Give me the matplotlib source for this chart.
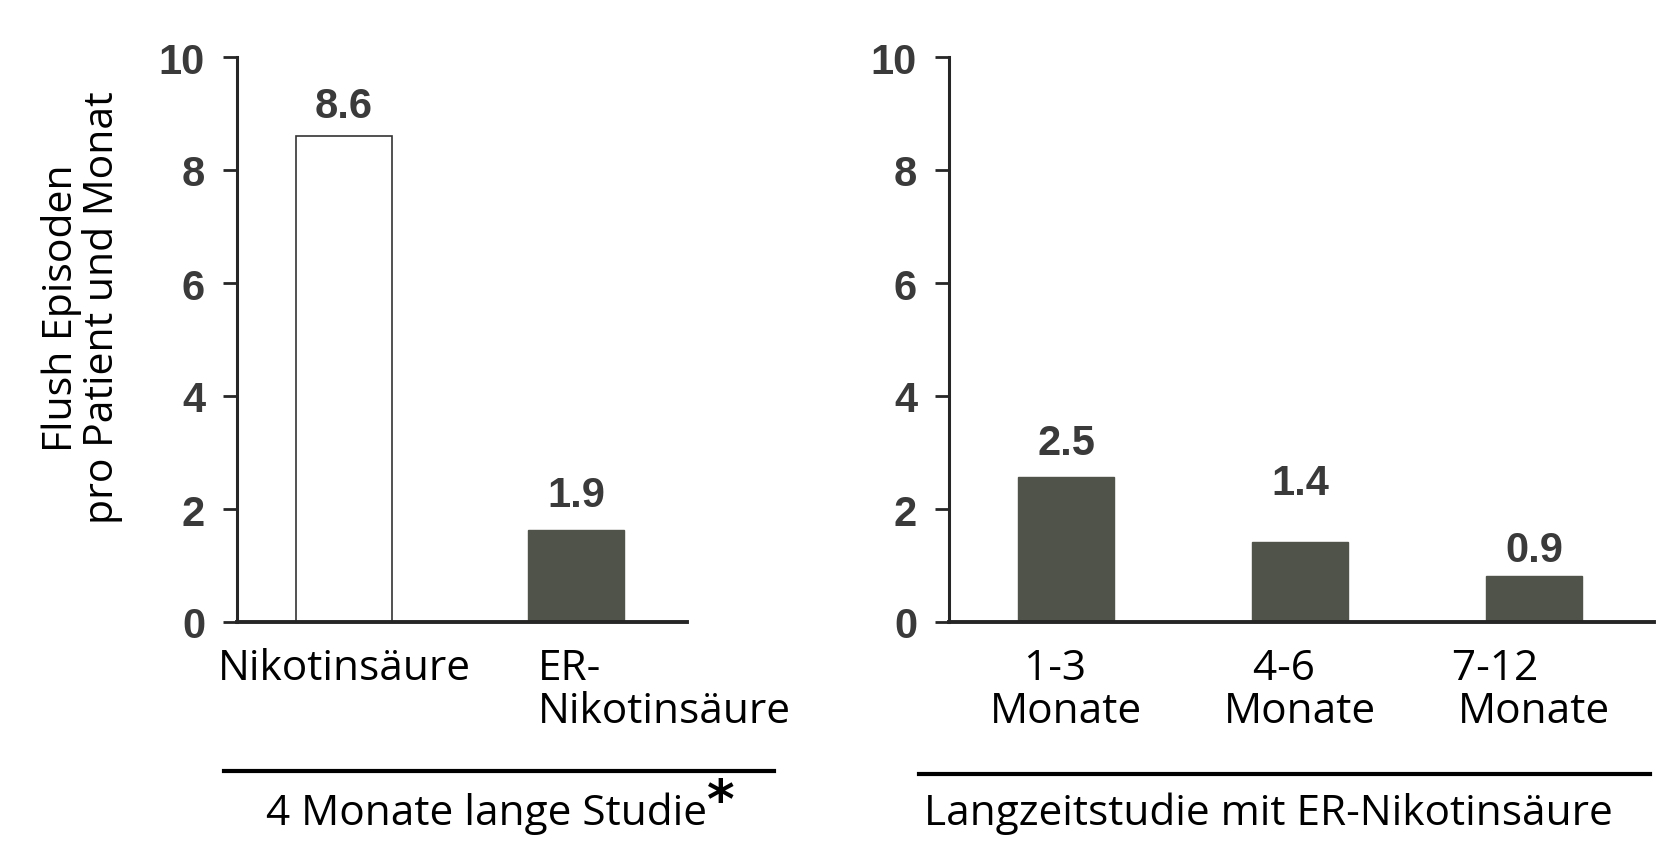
import matplotlib.pyplot as plt
from matplotlib.lines import Line2D
from matplotlib import transforms

# Daten: linkes Panel (4 Monate lange Studie)
cats_left = ['Nikotinsäure', 'ER-\nNikotinsäure']
vals_left = [8.6, 1.63]          # Balkenhöhe wie gezeichnet
labels_left = ['8.6', '1.9']     # beschriftete Werte

# Daten: rechtes Panel (Langzeitstudie)
cats_right = ['1-3  \nMonate', '4-6   \nMonate', '7-12       \nMonate']
vals_right = [2.57, 1.42, 0.81]
labels_right = ['2.5', '1.4', '0.9']

yticks = [0, 2, 4, 6, 8, 10]

dark = '#505349'
axis_col = '#262626'
num_col = '#3a3a3a'
txt_font = 'Open Sans'
num_font = 'Liberation Sans'
txt_size = 30.5

fig = plt.figure(figsize=(16.8, 8.62), dpi=100)
W, H = 1680, 862


def px_axes(x0, x1, y_top, y_bot):
    return fig.add_axes([x0 / W, (H - y_bot) / H, (x1 - x0) / W, (y_bot - y_top) / H])


def style_axes(ax):
    ax.set_ylim(0, 10)
    ax.set_yticks(yticks)
    ax.set_yticklabels([str(t) for t in yticks], fontfamily=num_font,
                       fontweight='bold', fontsize=30, color=num_col)
    ax.tick_params(axis='y', direction='out', length=10, width=2,
                   color=axis_col, pad=13)
    ax.set_xticks([])
    for s in ['top', 'right']:
        ax.spines[s].set_visible(False)
    ax.spines['left'].set_linewidth(2.2)
    ax.spines['bottom'].set_linewidth(2.8)
    ax.spines['left'].set_color(axis_col)
    ax.spines['bottom'].set_color(axis_col)


bar_w = 0.41

# linkes Panel
ax1 = px_axes(237, 687, 58, 623)
style_axes(ax1)
ax1.set_xlim(-0.461, 1.478)
x_left = list(range(len(cats_left)))
ax1.bar(x_left[0], vals_left[0], width=bar_w, color='white',
        edgecolor='#333333', linewidth=1.2)
ax1.bar(x_left[1], vals_left[1], width=bar_w, color=dark, edgecolor=dark)
left_offsets = [14, 17]
for x, v, lab, off in zip(x_left, vals_left, labels_left, left_offsets):
    ax1.annotate(lab, (x, v), xytext=(0, off), textcoords='offset points',
                 ha='center', va='baseline', fontfamily=num_font,
                 fontweight='bold', fontsize=30, color=num_col)

trans1 = transforms.blended_transform_factory(ax1.transData, ax1.transAxes)
ax1.text(x_left[0], -0.045, cats_left[0], transform=trans1, ha='center',
         va='top', fontfamily=txt_font, fontsize=txt_size, linespacing=1.02)
ax1.text(x_left[1] - bar_w / 2 + 0.04, -0.045, cats_left[1], transform=trans1,
         ha='left', va='top', multialignment='left', fontfamily=txt_font,
         fontsize=txt_size, linespacing=1.02)

fig.text(82 / W, 1 - 308 / H, 'Flush Episoden\npro Patient und Monat',
         rotation=90, ha='center', va='center', multialignment='center',
         fontfamily=txt_font, fontsize=29.5, linespacing=0.97)

# rechtes Panel
ax2 = px_axes(949, 1654, 58, 623)
style_axes(ax2)
ax2.set_xlim(-0.5, 2.513)
x_right = list(range(len(cats_right)))
ax2.bar(x_right, vals_right, width=bar_w, color=dark, edgecolor=dark)
right_offsets = [16.5, 34.5, 11]
for x, v, lab, off in zip(x_right, vals_right, labels_right, right_offsets):
    ax2.annotate(lab, (x, v), xytext=(0, off), textcoords='offset points',
                 ha='center', va='baseline', fontfamily=num_font,
                 fontweight='bold', fontsize=30, color=num_col)

trans2 = transforms.blended_transform_factory(ax2.transData, ax2.transAxes)
for x, c in zip(x_right, cats_right):
    ax2.text(x, -0.045, c, transform=trans2, ha='center', va='top',
             multialignment='center', fontfamily=txt_font, fontsize=txt_size,
             linespacing=1.02)

# Gruppenlinien und Beschriftungen unten
fig.add_artist(Line2D([224 / W, 774 / W], [1 - 772 / H, 1 - 772 / H],
                      color='black', linewidth=3))
fig.add_artist(Line2D([919 / W, 1650 / W], [1 - 775 / H, 1 - 775 / H],
                      color='black', linewidth=3))
study = fig.text(266 / W, 1 - 825 / H, '4 Monate lange Studie', ha='left',
                 va='baseline', fontfamily=txt_font, fontsize=txt_size)
fig.add_artist(plt.Annotation('*', xy=(1, 0), xycoords=study,
                              xytext=(0, 4), textcoords='offset points',
                              ha='left', va='bottom', fontfamily='DejaVu Sans',
                              fontweight='bold', fontsize=38))
fig.text(924 / W, 1 - 825 / H, 'Langzeitstudie mit ER-Nikotinsäure',
         ha='left', va='baseline', fontfamily=txt_font, fontsize=txt_size)

fig.savefig('out.png', dpi=100, facecolor='white')
